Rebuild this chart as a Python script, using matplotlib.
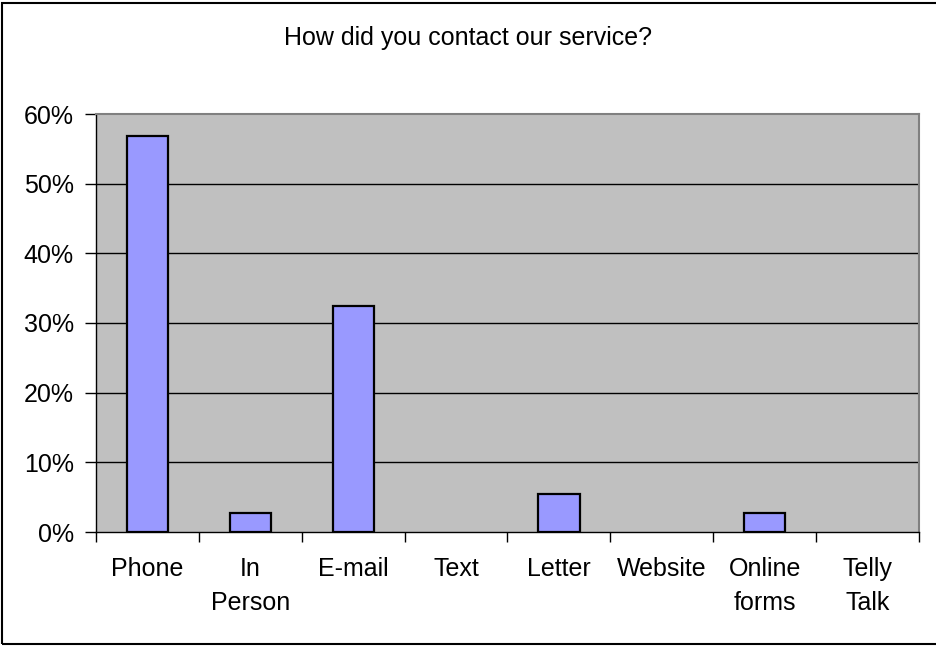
import matplotlib

matplotlib.use("Agg")

import matplotlib.pyplot as plt  # noqa: E402
import numpy as np  # noqa: E402
from matplotlib.patches import Rectangle  # noqa: E402
from matplotlib.ticker import FuncFormatter  # noqa: E402

# Données (en %)
categories = ["Phone", "In\nPerson", "E-mail", "Text", "Letter", "Website",
              "Online\nforms", "Telly\nTalk"]
shares = [56.8, 2.7, 32.4, 0.0, 5.4, 0.0, 2.7, 0.0]
y_ticks = [0, 10, 20, 30, 40, 50, 60]
title = "How did you contact our service?"

plt.rcParams["font.family"] = ["Liberation Sans", "DejaVu Sans"]
FS = 18

fig = plt.figure(figsize=(9.37, 6.46), dpi=100)
fig.patch.set_facecolor("white")
ax = fig.add_axes([96 / 937, 1 - 532 / 646, (919 - 96) / 937, (532 - 114) / 646])
ax.set_facecolor("#C0C0C0")

x = np.arange(len(categories))
# pas de contour pour les barres nulles (invisibles dans l'original)
edge_widths = [1.6 if v > 0 else 0 for v in shares]
ax.bar(x, shares, width=0.4, color="#9999FF", edgecolor="black",
       linewidth=edge_widths, zorder=3)

ax.set_xlim(-0.5, len(categories) - 0.5)
ax.set_ylim(0, 60)
ax.set_yticks(y_ticks)
ax.yaxis.set_major_formatter(FuncFormatter(lambda v, _: f"{v:.0f}%"))
for v in y_ticks[1:-1]:
    ax.axhline(v, color="black", linewidth=1.0, zorder=1)

# graduations aux frontières, étiquettes au centre des catégories
ax.set_xticks(np.arange(len(categories) + 1) - 0.5)
ax.set_xticklabels([])
ax.set_xticks(x, minor=True)
ax.set_xticklabels(categories, minor=True, fontsize=FS, linespacing=1.55,
                   va="top")
ax.tick_params(axis="x", which="major", length=7, width=1, direction="out")
ax.tick_params(axis="x", which="minor", length=0, pad=18)
ax.tick_params(axis="y", length=8, width=1, direction="out", pad=8,
               labelsize=FS)

for side in ("left", "bottom"):
    ax.spines[side].set_color("black")
    ax.spines[side].set_linewidth(1.0)
for side in ("top", "right"):
    ax.spines[side].set_color("#808080")
    ax.spines[side].set_linewidth(1.5)

fig.text(468 / 937, 1 - 38 / 646, title, ha="center", va="center", fontsize=FS)

# cadre du graphique (coupé à droite comme dans l'original)
fig.patches.append(Rectangle((2 / 937, 1 - 644 / 646), 1.0, (644 - 3) / 646,
                             transform=fig.transFigure, fill=False,
                             edgecolor="black", linewidth=1.5))

fig.savefig("out.png", dpi=100)
plt.close(fig)
